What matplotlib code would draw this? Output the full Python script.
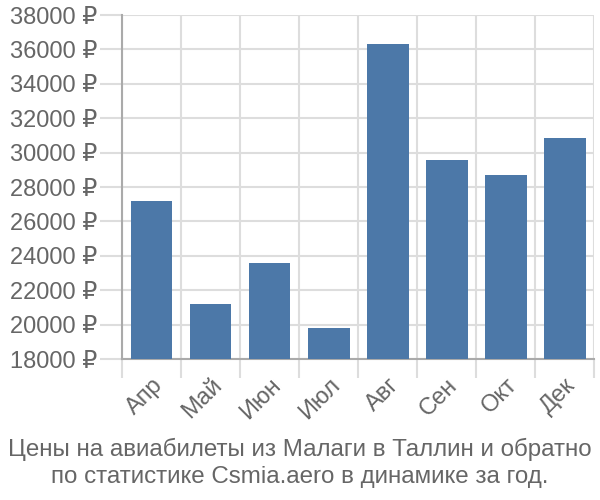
#!/usr/bin/env python3
"""Bar chart of monthly airfare prices Malaga - Tallinn."""
import matplotlib
matplotlib.use("Agg")
import matplotlib.pyplot as plt
import numpy as np
from matplotlib.ticker import FixedLocator, FuncFormatter

plt.rcParams["font.family"] = ["Liberation Sans", "DejaVu Sans"]

months = ["Апр", "Май", "Июн", "Июл", "Авг", "Сен", "Окт", "Дек"]
prices = [27200, 21200, 23600, 19800, 36300, 29550, 28700, 30850]
y_ticks = list(range(18000, 38001, 2000))
title = ("Цены на авиабилеты из Малаги в Таллин и обратно\n"
         "по статистике Csmia.aero в динамике за год.")

BAR_COLOR = "#4c78a8"
GRID_COLOR = "#dddddd"
TEXT_COLOR = "#666666"

fig = plt.figure(figsize=(6, 5), dpi=100)
ax = fig.add_axes([0.2033, 0.282, 0.787, 0.688])

x = np.arange(len(months))
ax.bar(x, prices, width=0.71, color=BAR_COLOR, zorder=3)

ax.set_xlim(-0.5, len(months) - 0.5)
ax.set_ylim(y_ticks[0], y_ticks[-1])

ax.set_yticks(y_ticks)
ax.yaxis.set_major_formatter(FuncFormatter(lambda v, _: f"{int(v)} ₽"))
ax.set_xticks(x)
ax.set_xticklabels(months, rotation=45, ha="right", rotation_mode="anchor")
ax.xaxis.set_minor_locator(FixedLocator(np.arange(-0.5, len(months), 1.0)))

ax.tick_params(axis="x", which="major", length=0, pad=11, labelsize=17, labelcolor=TEXT_COLOR)
ax.tick_params(axis="x", which="minor", length=14, width=1.5, color=GRID_COLOR)
ax.tick_params(axis="y", length=16, width=1.5, color=GRID_COLOR, pad=2, labelsize=17, labelcolor=TEXT_COLOR)

ax.grid(True, axis="y", which="major", color=GRID_COLOR, linewidth=1.5, zorder=0)
ax.grid(True, axis="x", which="minor", color=GRID_COLOR, linewidth=1.5, zorder=0)
ax.grid(False, axis="x", which="major")

for side in ("top", "right"):
    ax.spines[side].set_visible(False)
ax.spines["left"].set_color("#aaaaaa")
ax.spines["left"].set_linewidth(1.5)
ax.spines["bottom"].set_color("#aaaaaa")
ax.spines["bottom"].set_linewidth(1.5)

fig.text(0.5, 0.024, title, ha="center", va="bottom", fontsize=17.4,
         color=TEXT_COLOR, linespacing=1.3)

fig.savefig("out.png", dpi=100)
plt.close(fig)
